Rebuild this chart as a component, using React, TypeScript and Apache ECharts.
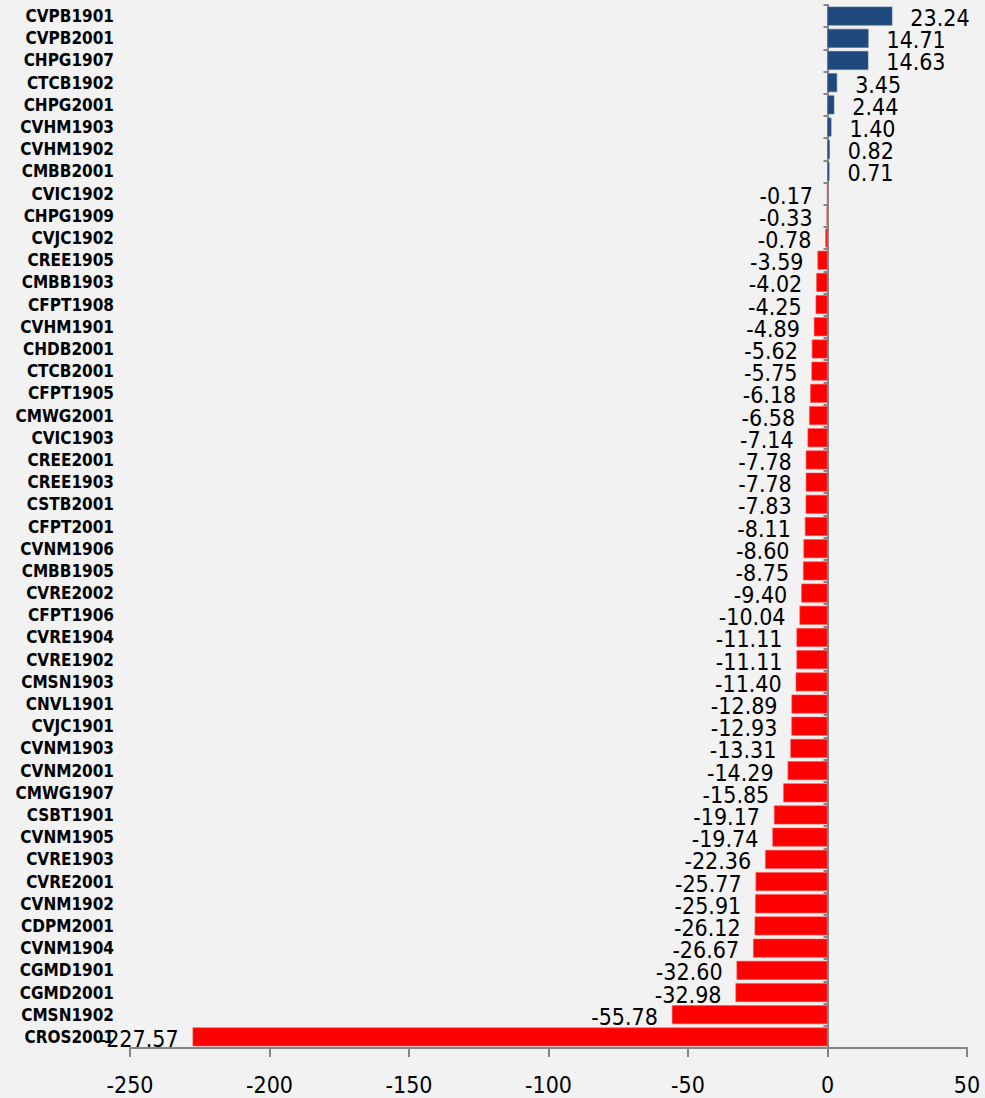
import React, { useEffect, useRef } from "react";
import * as echarts from "echarts";

// Contract codes, top to bottom
const categories: string[] = [
  "CVPB1901", "CVPB2001", "CHPG1907", "CTCB1902", "CHPG2001", "CVHM1903", "CVHM1902", "CMBB2001",
  "CVIC1902", "CHPG1909", "CVJC1902", "CREE1905", "CMBB1903", "CFPT1908", "CVHM1901", "CHDB2001",
  "CTCB2001", "CFPT1905", "CMWG2001", "CVIC1903", "CREE2001", "CREE1903", "CSTB2001", "CFPT2001",
  "CVNM1906", "CMBB1905", "CVRE2002", "CFPT1906", "CVRE1904", "CVRE1902", "CMSN1903", "CNVL1901",
  "CVJC1901", "CVNM1903", "CVNM2001", "CMWG1907", "CSBT1901", "CVNM1905", "CVRE1903", "CVRE2001",
  "CVNM1902", "CDPM2001", "CVNM1904", "CGMD1901", "CGMD2001", "CMSN1902", "CROS2001",
];

// Percentage change per contract
const values: number[] = [
  23.24, 14.71, 14.63, 3.45, 2.44, 1.4, 0.82, 0.71,
  -0.17, -0.33, -0.78, -3.59, -4.02, -4.25, -4.89, -5.62,
  -5.75, -6.18, -6.58, -7.14, -7.78, -7.78, -7.83, -8.11,
  -8.6, -8.75, -9.4, -10.04, -11.11, -11.11, -11.4, -12.89,
  -12.93, -13.31, -14.29, -15.85, -19.17, -19.74, -22.36, -25.77,
  -25.91, -26.12, -26.67, -32.6, -32.98, -55.78, -227.57,
];

// Value axis range
const axisMin = -250;
const axisMax = 50;
const axisStep = 50;

const POS_COLOR = "#1F497D";
const NEG_COLOR = "#FF0000";
const AXIS_COLOR = "#868686";
const FONT = "'DejaVu Sans Condensed', 'DejaVu Sans', Tahoma, sans-serif";

export default function App() {
  const ref = useRef<HTMLDivElement>(null);

  useEffect(() => {
    if (!ref.current) return;
    const chart = echarts.init(ref.current, undefined, { renderer: "svg" });

    const seriesData = values.map((v) => ({
      value: v,
      itemStyle: {
        color: v >= 0 ? POS_COLOR : NEG_COLOR,
        borderColor: v >= 0 ? "#4F6F99" : "#FF5050",
        borderWidth: 0.6,
      },
      label: {
        position: v >= 0 ? "right" : "left",
        distance: v >= 0 ? 18 : 14,
      },
    }));

    chart.setOption({
      animation: false,
      backgroundColor: "#F2F2F2",
      grid: { left: 130, right: 18, top: 5, bottom: 50, containLabel: false },
      xAxis: {
        type: "value",
        min: axisMin,
        max: axisMax,
        interval: axisStep,
        splitLine: { show: false },
        axisLine: { show: true, lineStyle: { color: AXIS_COLOR, width: 2 } },
        axisTick: { show: true, length: 9, lineStyle: { color: AXIS_COLOR, width: 2 } },
        axisLabel: { color: "#000", fontSize: 23, fontFamily: FONT, margin: 25 },
      },
      yAxis: [
        {
          type: "category",
          data: categories,
          inverse: true,
          position: "left",
          axisLine: { show: true, onZero: true, lineStyle: { color: AXIS_COLOR, width: 2 } },
          axisTick: { show: true, length: 4, lineStyle: { color: AXIS_COLOR, width: 2 } },
          axisLabel: { show: false },
        },
        {
          type: "category",
          data: categories,
          inverse: true,
          position: "left",
          axisLine: { show: false, onZero: false },
          axisTick: { show: false },
          axisLabel: {
            show: true,
            color: "#000",
            fontSize: 17,
            fontWeight: "bold",
            fontFamily: FONT,
            margin: 16,
          },
        },
      ],
      series: [
        {
          type: "bar",
          yAxisIndex: 0,
          data: seriesData,
          barCategoryGap: "15%",
          label: {
            show: true,
            color: "#000",
            fontSize: 23,
            fontFamily: FONT,
            offset: [0, 2],
            formatter: (p: any) => Number(p.value).toFixed(2),
          },
        },
      ],
    });

    return () => chart.dispose();
  }, []);

  return (
    <div
      ref={ref}
      style={{ position: "fixed", left: 0, top: 0, width: 985, height: 1098 }}
    />
  );
}
